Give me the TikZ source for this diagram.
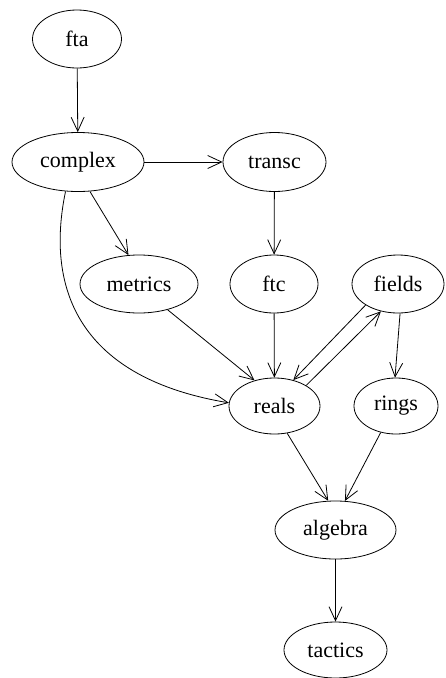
\documentclass[tikz,border=0pt]{standalone}
\usepackage{fontspec}
\setmainfont{Liberation Serif}
\usetikzlibrary{shapes.geometric,arrows.meta}
\begin{document}
\begin{tikzpicture}[x=1pt,y=-1pt,
  nd/.style={ellipse,draw,line width=0.8pt,inner sep=0pt,font=\fontsize{22}{24}\selectfont},
  ed/.style={line width=0.8pt,-{Straight Barb[length=14pt,width=13pt,line width=0.8pt]}}]
\useasboundingbox (0,0) rectangle (445,678);
\node[nd,minimum width=89pt,minimum height=58pt] (fta) at (77,39) {fta};
\node[nd,minimum width=132pt,minimum height=59pt] (complex) at (78,162) {complex};
\node[nd,minimum width=103pt,minimum height=59pt] (transc) at (274.5,162) {transc};
\node[nd,minimum width=118pt,minimum height=58pt] (metrics) at (139,284) {metrics};
\node[nd,minimum width=88pt,minimum height=58pt] (ftc) at (274,284) {ftc};
\node[nd,minimum width=92pt,minimum height=58pt] (fields) at (398,284) {fields};
\node[nd,minimum width=91pt,minimum height=56pt] (reals) at (274.5,406) {reals};
\node[nd,minimum width=84pt,minimum height=56pt] (rings) at (396,406) {rings};
\node[nd,minimum width=121pt,minimum height=58pt] (algebra) at (335.5,530) {algebra};
\node[nd,minimum width=103pt,minimum height=56pt] (tactics) at (335.5,650) {tactics};
\draw[ed] (fta) -- (complex);
\draw[ed] (complex) -- (transc);
\draw[ed] (complex.292) -- (metrics.110);
\draw[ed] (complex.247) .. controls (45,290) and (80,378) .. (reals.176);
\draw[ed] (transc) -- (ftc);
\draw[ed] (metrics.318) -- (reals.128);
\draw[ed] (ftc) -- (reals);
\draw[ed] (fields.213) -- (reals.54);
\draw[ed] (reals.33) -- (fields.238);
\draw[ed] (fields.274) -- (rings.92);
\draw[ed] (reals.295) -- (algebra.104);
\draw[ed] (rings.240) -- (algebra.72);
\draw[ed] (algebra) -- (tactics);
\end{tikzpicture}
\end{document}
